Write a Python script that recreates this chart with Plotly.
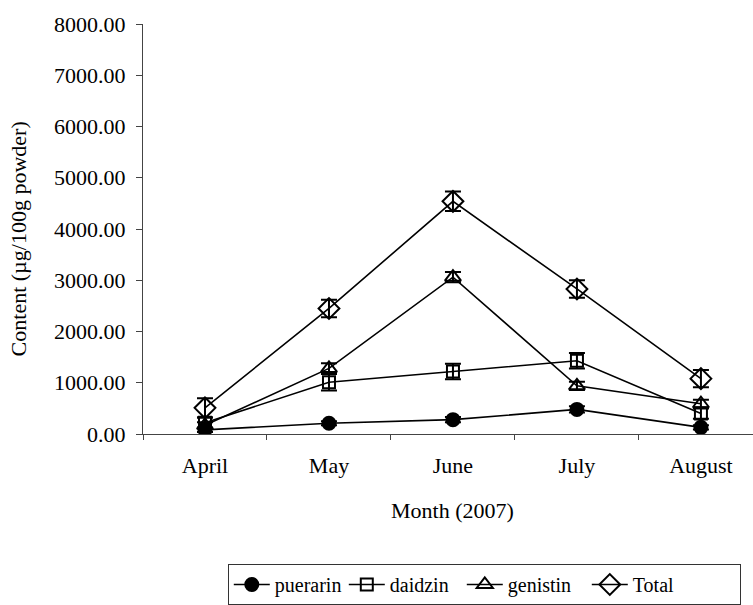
import plotly.graph_objects as go

# Isoflavone content by harvest month (µg/100 g powder)
months = ["April", "May", "June", "July", "August"]

puerarin = [80, 210, 280, 480, 130]
puerarin_err = [40, 40, 50, 60, 40]

daidzin = [220, 1010, 1220, 1430, 400]
daidzin_err = [100, 160, 150, 150, 100]

genistin = [170, 1280, 3060, 940, 590]
genistin_err = [60, 100, 100, 80, 80]

total = [510, 2450, 4540, 2830, 1080]
total_err = [190, 170, 190, 170, 170]

y_ticks = [0, 1000, 2000, 3000, 4000, 5000, 6000, 7000, 8000]

FONT = "Liberation Serif"
INK = "black"
AXIS = "#444444"

# name, values, errors, marker symbol, marker size, legend entry width
series = [
    ("puerarin", puerarin, puerarin_err, "circle", 13, 64),
    ("daidzin", daidzin, daidzin_err, "square-open", 12, 67),
    ("genistin", genistin, genistin_err, "triangle-up-open", 14, 74),
    ("Total", total, total_err, "diamond-open", 16, 102),
]

fig = go.Figure()
for name, vals, errs, symbol, size, lw in series:
    fig.add_trace(go.Scatter(
        x=months,
        y=vals,
        name=name,
        mode="lines+markers",
        line=dict(color=INK, width=1.6),
        marker=dict(symbol=symbol, size=size, color=INK,
                    line=dict(color=INK, width=2)),
        error_y=dict(type="data", array=errs, visible=True,
                     color=INK, thickness=2, width=8),
        legendwidth=lw,
    ))

fig.update_layout(
    width=753,
    height=605,
    margin=dict(l=143, r=0, t=24, b=168),
    paper_bgcolor="white",
    plot_bgcolor="white",
    font=dict(family=FONT, color=INK),
    showlegend=True,
    legend=dict(
        orientation="h",
        x=0.139, y=-0.317,
        xanchor="left", yanchor="top",
        bordercolor="#333333", borderwidth=1,
        bgcolor="white",
        font=dict(family=FONT, size=20, color=INK),
        itemwidth=36,
    ),
)

fig.update_xaxes(
    type="category",
    range=[-0.5, 4.42],
    showline=True, linecolor=AXIS, linewidth=1,
    ticks="outside", tickson="boundaries", ticklen=5,
    tickcolor=AXIS, tickwidth=1,
    tickfont=dict(family=FONT, size=22, color=INK),
    ticklabelstandoff=12,
    showgrid=False, zeroline=False,
)

fig.update_yaxes(
    range=[0, 8000],
    tickvals=y_ticks,
    tickformat=".2f",
    showline=True, linecolor=AXIS, linewidth=1,
    ticks="outside", ticklen=6, tickcolor=AXIS, tickwidth=1,
    tickfont=dict(family=FONT, size=22, color=INK),
    ticklabelstandoff=6,
    showgrid=False, zeroline=False,
)

# Axis titles
fig.add_annotation(
    text="Content (µg/100g powder)",
    xref="paper", yref="paper",
    x=-0.205, y=0.477,
    xanchor="center", yanchor="middle",
    textangle=-90, showarrow=False,
    font=dict(family=FONT, size=22, color=INK),
)
fig.add_annotation(
    text="Month (2007)",
    xref="x", yref="paper",
    x=2, y=-0.186,
    xanchor="center", yanchor="middle",
    showarrow=False,
    font=dict(family=FONT, size=22, color=INK),
)

fig.write_html("out.html")
